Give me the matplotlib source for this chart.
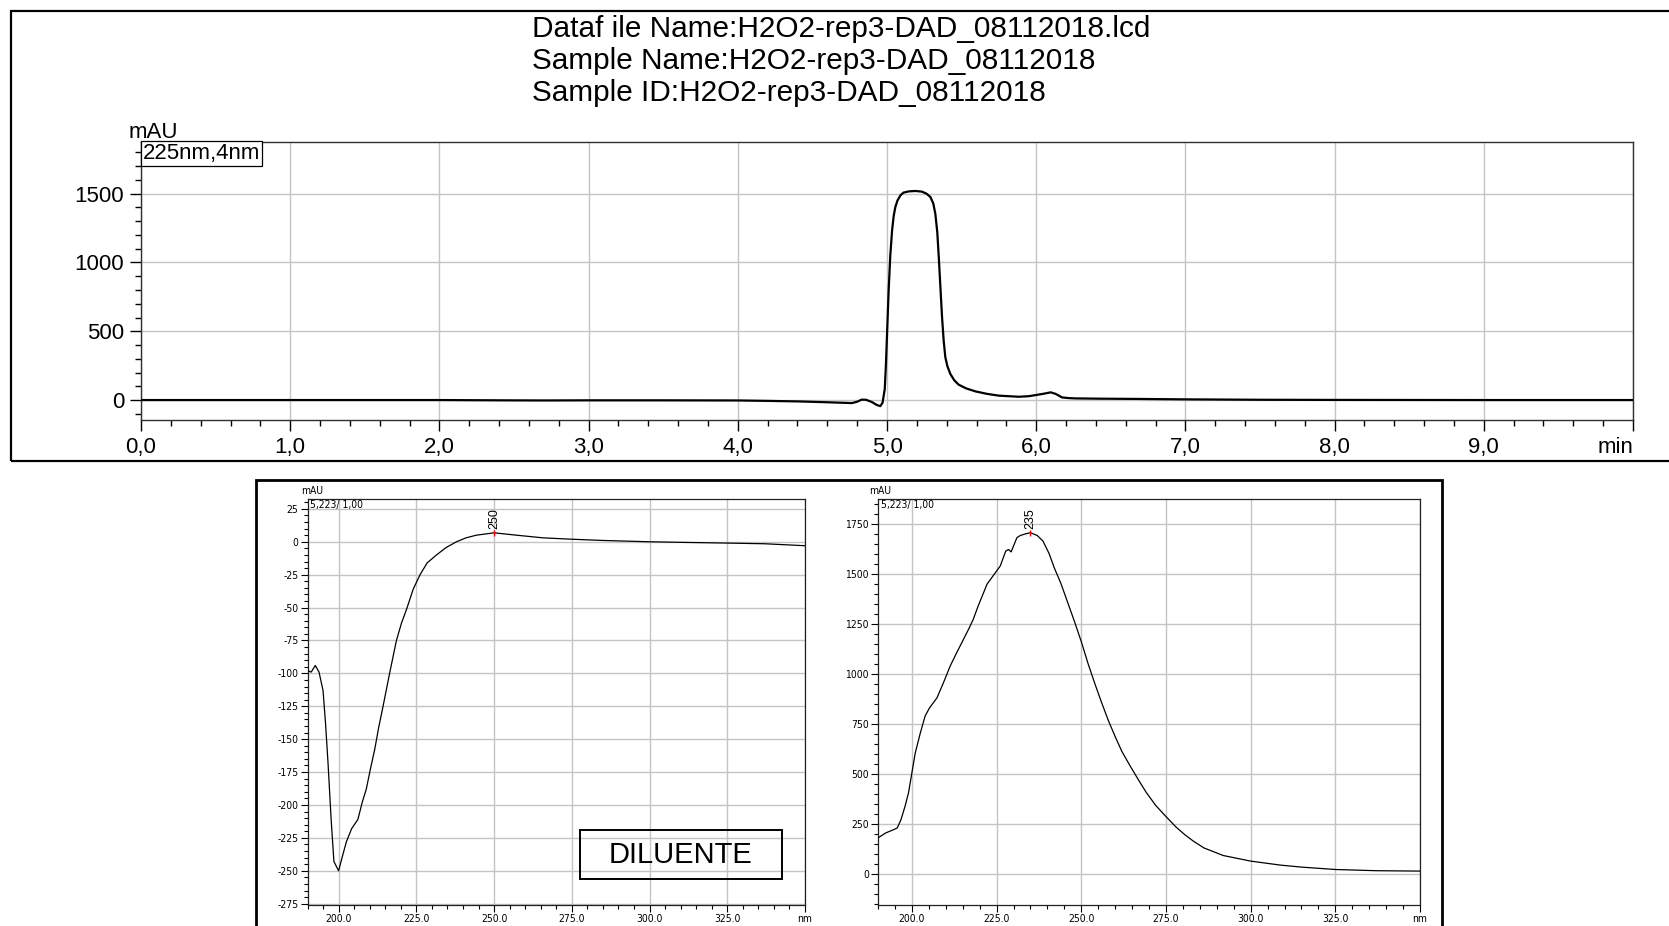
import matplotlib
matplotlib.use('Agg')
import matplotlib.pyplot as plt
from matplotlib import font_manager
from matplotlib.patches import Rectangle
from matplotlib.ticker import MultipleLocator

# 輸出尺寸 (像素)
W, H = 1669, 926
DPI = 100

header_lines = [
    'Dataf ile Name:H2O2-rep3-DAD_08112018.lcd',
    'Sample Name:H2O2-rep3-DAD_08112018',
    'Sample ID:H2O2-rep3-DAD_08112018',
]
channel_label = '225nm,4nm'
spectrum_tag = '5,223/ 1,00'
box_label = 'DILUENTE'

# 層析圖 225nm (時間 min, 訊號 mAU)
time_min = [0.0, 0.5, 1.0, 1.5, 2.0, 2.4, 2.7, 3.0, 3.5, 4.0, 4.2, 4.41, 4.6,
            4.765, 4.8, 4.83, 4.86, 4.9, 4.93, 4.955, 4.97, 4.985, 4.993, 5.0,
            5.011, 5.022, 5.034, 5.045, 5.056, 5.07, 5.09, 5.11, 5.146, 5.19,
            5.235, 5.265, 5.291, 5.31, 5.324, 5.337, 5.347, 5.358, 5.369, 5.38,
            5.391, 5.405, 5.425, 5.45, 5.48, 5.53, 5.593, 5.67, 5.75, 5.884,
            5.95, 5.996, 6.05, 6.097, 6.13, 6.174, 6.22, 6.264, 6.42, 6.7, 7.0,
            7.5, 8.0, 9.0, 10.0]
signal_mau = [0, 0, 0, 0, 0, -2, -3, -2, -2, -3, -6, -10, -16,
              -22, -12, 3, 2, -15, -35, -44, -20, 80, 262, 470,
              796, 1050, 1233, 1340, 1403, 1450, 1488, 1508, 1517, 1520,
              1515, 1500, 1476, 1430, 1354, 1220, 1039, 820, 602, 430,
              311, 245, 189, 145, 112, 85, 63, 45, 32, 24,
              28, 36, 46, 56, 45, 19, 14, 12, 10, 8, 5,
              2, 1, 0, 0]
chrom_xticks = [0, 1, 2, 3, 4, 5, 6, 7, 8, 9, 10]
chrom_xlabels = ['0,0', '1,0', '2,0', '3,0', '4,0', '5,0', '6,0', '7,0',
                 '8,0', '9,0', 'min']
chrom_yticks = [0, 500, 1000, 1500]

# 光譜: 稀釋液
dil_nm = [190.1, 191.2, 192.5, 193.7, 195.0, 195.8, 196.6, 197.6, 198.5,
          200.0, 201.0, 202.5, 204.2, 206.2, 207.6, 208.9, 210.2, 211.6,
          212.9, 214.3, 216.4, 218.6, 220.2, 221.9, 224.0, 226.2, 228.5,
          231.5, 234.5, 237.9, 241.0, 244.3, 250.0, 257.2, 265.7, 274.3,
          285.0, 300.0, 312.0, 325.0, 337.0, 350.0]
dil_mau = [-98, -99, -94, -99, -113, -138, -168, -211, -243,
           -250, -241, -228, -218, -211, -198, -188, -173, -158,
           -141, -125, -100, -75, -62, -51, -36, -25, -16,
           -10, -4.5, 0, 3, 5, 6.8, 5, 3, 2,
           1, 0, -0.5, -1, -1.5, -3]
dil_xticks = [200, 225, 250, 275, 300, 325, 350]
dil_xlabels = ['200.0', '225.0', '250.0', '275.0', '300.0', '325.0', 'nm']
dil_yticks = [25, 0, -25, -50, -75, -100, -125, -150, -175, -200, -225,
              -250, -275]

# 光譜: 樣品 (5.223 min)
smp_nm = [190.0, 192.3, 194.6, 195.7, 196.8, 198.0, 199.0, 200.0, 201.0,
          202.5, 203.9, 205.2, 207.4, 209.3, 211.3, 213.2, 214.7, 216.7,
          218.1, 219.6, 222.2, 226.1, 227.7, 228.5, 229.3, 230.0, 231.0,
          232.0, 233.5, 235.0, 237.0, 238.7, 240.5, 242.0, 244.0, 246.0,
          248.0, 250.0, 252.0, 254.0, 256.0, 258.0, 260.0, 262.0, 264.7,
          267.0, 269.2, 272.0, 275.0, 278.0, 280.5, 283.0, 286.2, 291.9,
          300.0, 308.8, 315.0, 325.0, 337.0, 350.0]
smp_mau = [178, 203, 219, 228, 270, 337, 403, 503, 603,
           703, 787, 828, 878, 953, 1037, 1103, 1153, 1220,
           1270, 1339, 1447, 1538, 1612, 1620, 1608, 1637, 1679,
           1690, 1698, 1704, 1690, 1662, 1600, 1530, 1450, 1355,
           1260, 1160, 1050, 950, 855, 765, 685, 610, 530,
           465, 405, 340, 285, 232, 195, 163, 128, 90,
           62, 42, 32, 20, 14, 12]
smp_xticks = dil_xticks
smp_xlabels = dil_xlabels
smp_yticks = [0, 250, 500, 750, 1000, 1250, 1500, 1750]

plt.rcParams['font.family'] = ['Liberation Sans', 'DejaVu Sans']

# 光譜刻度用窄字體
available = {f.name for f in font_manager.fontManager.ttflist}
if 'Liberation Sans Narrow' in available:
    small_font = dict(family='Liberation Sans Narrow', size=8.5)
else:
    small_font = dict(family='DejaVu Sans', stretch='condensed', size=7.5)

GRID = '#c4c4c4'

fig = plt.figure(figsize=(W / DPI, H / DPI), dpi=DPI)


def px_axes(left, top, right, bottom):
    """以像素座標建立子圖"""
    return fig.add_axes([left / W, 1 - bottom / H,
                         (right - left) / W, (bottom - top) / H])


def px_rect(left, top, right, bottom, lw):
    rect = Rectangle((left / W, 1 - bottom / H), (right - left) / W,
                     (bottom - top) / H, transform=fig.transFigure,
                     fill=False, ec='black', lw=lw, clip_on=False)
    fig.patches.append(rect)


# 外框
px_rect(11, 11, 1700, 461, 1.6)
px_rect(256, 480, 1442, 960, 2.0)

# 檔案資訊
for i, line in enumerate(header_lines):
    fig.text(532 / W, 1 - (29 + 32 * i) / H, line, fontsize=21.4,
             ha='left', va='center')

# ---- 層析圖 ----
ax = px_axes(141, 142, 1633, 420)
ax.plot(time_min, signal_mau, color='black', lw=1.6, zorder=3)
ax.set_xlim(0, 10)
ax.set_ylim(-145, 1876)
ax.set_xticks(chrom_xticks)
ax.set_xticklabels(chrom_xlabels)
ax.get_xticklabels()[-1].set_horizontalalignment('right')
ax.xaxis.set_minor_locator(MultipleLocator(0.2))
ax.set_yticks(chrom_yticks)
ax.yaxis.set_minor_locator(MultipleLocator(100))
ax.grid(True, which='major', color=GRID, lw=1.0)
ax.tick_params(which='major', direction='out', length=8, width=1,
               labelsize=16, pad=4)
ax.tick_params(which='minor', direction='out', length=4, width=1)
for sp in ax.spines.values():
    sp.set_color('#303030')
    sp.set_linewidth(1.0)
ax.text(0.0015, 0.997, channel_label, transform=ax.transAxes, fontsize=16,
        ha='left', va='top',
        bbox=dict(boxstyle='square,pad=0.08', fc='white', ec='black', lw=0.9))
fig.text(153 / W, 1 - 133 / H, 'mAU', fontsize=16, ha='center', va='center')


def draw_spectrum(ax, nm, mau, ylim, yticks, yminor, xticks, xlabels):
    ax.plot(nm, mau, color='black', lw=0.9, zorder=3)
    ax.set_xlim(190, 350)
    ax.set_ylim(*ylim)
    ax.set_xticks(xticks)
    ax.set_xticklabels(xlabels, **small_font)
    ax.xaxis.set_minor_locator(MultipleLocator(5))
    ax.set_yticks(yticks)
    ax.set_yticklabels([str(v) for v in yticks], **small_font)
    ax.yaxis.set_minor_locator(MultipleLocator(yminor))
    ax.grid(True, which='major', color=GRID, lw=1.0)
    ax.tick_params(which='major', direction='out', length=5, width=0.8,
                   pad=1.5)
    ax.tick_params(which='minor', direction='out', length=3, width=0.8)
    for sp in ax.spines.values():
        sp.set_color('#202020')
        sp.set_linewidth(0.9)
    # 最大吸收波長標記
    k = max(range(len(mau)), key=lambda i: mau[i])
    ax.plot(nm[k], mau[k], marker='|', color='red', ms=5, mew=1.0, zorder=4)
    ax.annotate(f'{nm[k]:.0f}', xy=(nm[k], mau[k]), xytext=(0, 3),
                textcoords='offset points', rotation=90, ha='center',
                va='bottom', fontsize=9)
    ax.text(0.005, 0.997, spectrum_tag, transform=ax.transAxes, ha='left',
            va='top', **small_font)


# ---- 稀釋液光譜 ----
ax_d = px_axes(307.5, 499, 805, 905)
draw_spectrum(ax_d, dil_nm, dil_mau, (-276, 32.5), dil_yticks, 5,
              dil_xticks, dil_xlabels)
fig.text(312 / W, 1 - 491 / H, 'mAU', ha='center', va='center', **small_font)

# ---- 樣品光譜 ----
ax_s = px_axes(878, 498.5, 1420, 904.5)
draw_spectrum(ax_s, smp_nm, smp_mau, (-155, 1875), smp_yticks, 50,
              smp_xticks, smp_xlabels)
fig.text(880 / W, 1 - 491 / H, 'mAU', ha='center', va='center', **small_font)

# 標示框
px_rect(580, 830, 782, 879, 1.4)
fig.text(681 / W, 1 - 855 / H, box_label, fontsize=21, ha='center',
         va='center')

fig.savefig('out.png', dpi=DPI)
